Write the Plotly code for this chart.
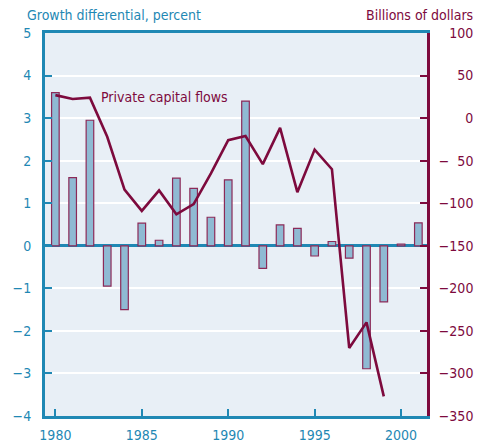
import plotly.graph_objects as go

years = list(range(1980, 2002))
growth_diff = [3.6, 1.6, 2.95, -0.95, -1.5, 0.53, 0.13, 1.59, 1.35, 0.67, 1.55,
               3.4, -0.53, 0.49, 0.41, -0.24, 0.1, -0.29, -2.89, -1.32, 0.04, 0.54]
flow_years = list(range(1980, 2000))
capital_flows = [27, 22.5, 24, -22, -84, -109, -85, -113, -101, -65, -26,
                 -21, -54, -11.5, -87, -37, -60, -270, -240, -327]
x_ticks = [1980, 1985, 1990, 1995, 2000]
right_ticks = [100, 50, 0, -50, -100, -150, -200, -250, -300, -350]

BLUE = "#1f88b4"
MAROON = "#7d0a3d"
FONT = "DejaVu Sans Condensed, Liberation Sans, sans-serif"

FS, TS = "\u2007", "\u2009"
MINUS_PAD = FS + TS


def right_label(v):
    s = str(abs(v))
    if v < 0:
        return "\u2212" + s.rjust(3, FS)
    return MINUS_PAD + s.rjust(3, FS)


right_text = [right_label(v) for v in right_ticks]

fig = go.Figure()
fig.add_trace(go.Bar(x=years, y=growth_diff, width=0.44,
                     marker=dict(color="#8fbad3", line=dict(color="#8c2a58", width=1.2)),
                     yaxis="y", showlegend=False))
fig.add_trace(go.Scatter(x=flow_years, y=capital_flows, mode="lines",
                         line=dict(color=MAROON, width=2.6),
                         yaxis="y2", showlegend=False))

fig.update_layout(
    width=470, height=438,
    margin=dict(l=37, r=51, t=25, b=30, autoexpand=False),
    paper_bgcolor="white", plot_bgcolor="#e8eff6",
    font=dict(family=FONT, size=14),
    xaxis=dict(range=[1979.4, 2001.5], tickvals=x_ticks,
               ticks="inside", ticklen=7, tickwidth=2, tickcolor=BLUE,
               showline=True, linecolor=BLUE, linewidth=3, mirror=True,
               showgrid=False, automargin=False, ticklabelstandoff=4,
               tickfont=dict(color=BLUE, size=14, family=FONT)),
    yaxis=dict(range=[-4, 5], dtick=1, ticks="inside", ticklen=7, tickwidth=2,
               tickcolor=BLUE, showline=True, linecolor=BLUE, linewidth=3,
               showgrid=True, gridcolor="white", gridwidth=2, automargin=False,
               zeroline=True, zerolinecolor=BLUE, zerolinewidth=3,
               ticklabelstandoff=8,
               tickfont=dict(color=BLUE, size=14, family=FONT)),
    yaxis2=dict(range=[-350, 100], tickvals=right_ticks, ticktext=right_text,
                overlaying="y", side="right",
                ticks="inside", ticklen=7, tickwidth=2, tickcolor=MAROON,
                showline=True, linecolor=MAROON, linewidth=3, automargin=False,
                showgrid=False, zeroline=False, ticklabelstandoff=6,
                tickfont=dict(color=MAROON, size=14, family=FONT)),
    annotations=[
        dict(text="Private capital flows", x=1982.5, y=25, xref="x", yref="y2",
             xanchor="left", yanchor="middle", showarrow=False,
             font=dict(color=MAROON, size=14, family=FONT)),
        dict(text="Growth differential, percent", x=-0.052, y=1.047, xref="paper", yref="paper",
             xanchor="left", yanchor="middle", showarrow=False,
             font=dict(color=BLUE, size=14, family=FONT)),
        dict(text="Billions of dollars", x=1.126, y=1.047, xref="paper", yref="paper",
             xanchor="right", yanchor="middle", showarrow=False,
             font=dict(color=MAROON, size=14, family=FONT)),
    ],
)

fig.write_html("out.html")
